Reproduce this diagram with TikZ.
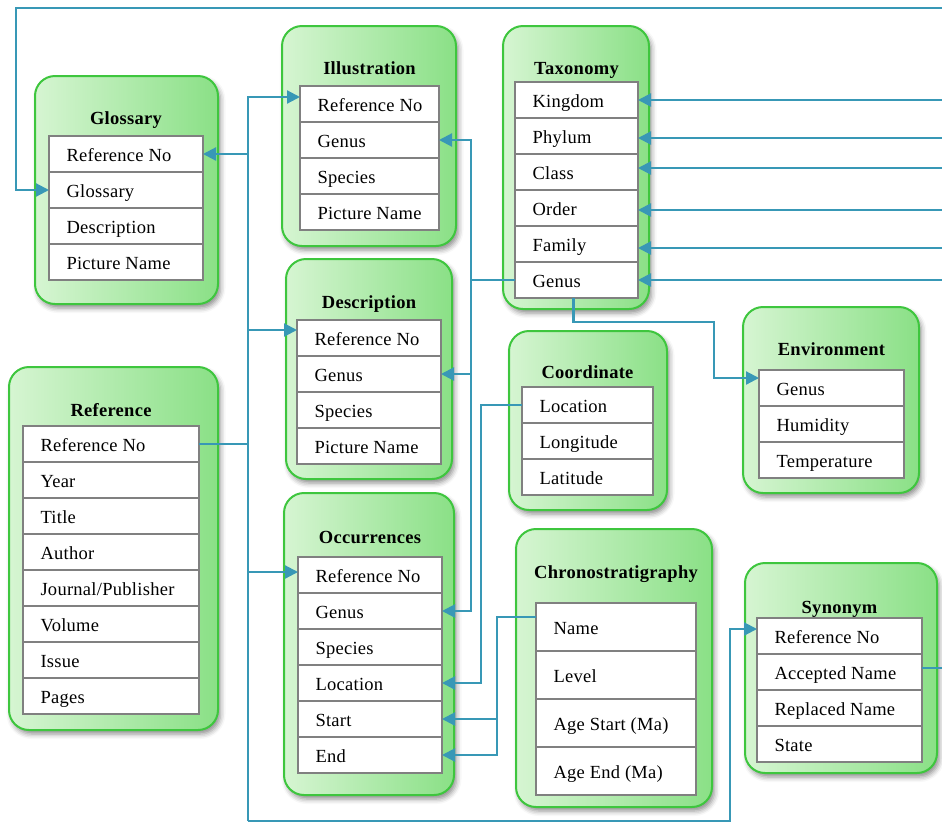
\documentclass[tikz,border=0pt]{standalone}
\usepackage{fontspec}
\setmainfont{Liberation Serif}[LetterSpace=1.5]
\usetikzlibrary{arrows.meta,shadows.blur}

\definecolor{boxedge}{RGB}{62,198,62}
\definecolor{boxlight}{RGB}{214,245,210}
\definecolor{boxdark}{RGB}{138,224,134}
\definecolor{rowedge}{RGB}{128,128,128}
\definecolor{wirecol}{RGB}{56,152,182}

\tikzset{
  entbox/.style={draw=boxedge, line width=2pt, rounded corners=20pt,
    left color=boxlight, right color=boxdark, anchor=north west,
    inner sep=0pt, outer sep=0pt,
    blur shadow={shadow xshift=2.5pt, shadow yshift=-4pt,
      shadow blur radius=5pt, shadow opacity=45}},
  fieldrow/.style={draw=rowedge, line width=1.5pt, fill=white,
    anchor=north west, inner xsep=17.5pt, inner ysep=0pt, outer sep=0pt,
    text height=15pt, text depth=0pt,
    font=\fontsize{18.5}{20}\selectfont},
  titletext/.style={anchor=base, inner sep=0pt,
    font=\fontsize{18.5}{20}\selectfont\bfseries},
  wire/.style={draw=wirecol, line width=2.2pt},
  wireto/.style={wire, -{Triangle[length=13pt,width=13pt]}},
}

% #1 prefix, #2 left x, #3 top y, #4 width, #5 row height, #6 field list
\newcommand{\fieldstack}[6]{%
  \pgfmathsetmacro{\fsw}{#4-35}%
  \foreach \ftext [count=\fidx] in {#6} {
    \node[fieldrow, minimum width=#4pt, minimum height=#5pt]
      (#1-\fidx) at (#2,{#3+(\fidx-1)*#5}) {\makebox[\fsw pt][l]{\ftext}};
  }%
}

\begin{document}
\begin{tikzpicture}[x=1pt, y=-1pt]
\useasboundingbox (0,0) rectangle (942,823);

% ---------- entity boxes ----------
\node[entbox, minimum width=183pt, minimum height=228pt] (gloss) at (35,76) {};
\node[titletext] (gloss-t) at (126,124) {Glossary};
\fieldstack{gl}{49}{136}{154}{36}{Reference No,Glossary,Description,Picture Name}

\node[entbox, minimum width=174pt, minimum height=220pt] (illu) at (282,26) {};
\node[titletext] (illu-t) at (369.5,74) {Illustration};
\fieldstack{ill}{300}{86}{139}{36}{Reference No,Genus,Species,Picture Name}

\node[entbox, minimum width=146pt, minimum height=283pt] (taxo) at (503,26) {};
\node[titletext] (taxo-t) at (576.5,74) {Taxonomy};
\fieldstack{tax}{515}{82}{123}{36}{Kingdom,Phylum,Class,Order,Family,Genus}

\node[entbox, minimum width=166pt, minimum height=220pt] (desc) at (286,259) {};
\node[titletext] (desc-t) at (369,308) {Description};
\fieldstack{dsc}{297}{320}{144}{36}{Reference No,Genus,Species,Picture Name}

\node[entbox, minimum width=158pt, minimum height=179pt] (coor) at (509,331) {};
\node[titletext] (coor-t) at (587.5,378) {Coordinate};
\fieldstack{coo}{522}{387}{131}{36}{Location,Longitude,Latitude}

\node[entbox, minimum width=176pt, minimum height=186pt] (envi) at (743,307) {};
\node[titletext] (envi-t) at (831.5,355) {Environment};
\fieldstack{env}{759}{370}{145}{36}{Genus,Humidity,Temperature}

\node[entbox, minimum width=209pt, minimum height=363pt] (refe) at (9,367) {};
\node[titletext] (refe-t) at (111,416) {Reference};
\fieldstack{ref}{23}{426}{176}{36}{Reference No,Year,Title,Author,Journal/Publisher,Volume,Issue,Pages}

\node[entbox, minimum width=170pt, minimum height=302pt] (occu) at (284,493) {};
\node[titletext] (occu-t) at (370,543) {Occurrences};
\fieldstack{occ}{298}{557}{144}{36}{Reference No,Genus,Species,Location,Start,End}

\node[entbox, minimum width=196pt, minimum height=278pt] (chro) at (516,529) {};
\node[titletext] (chro-t) at (616,578) {Chronostratigraphy};
\fieldstack{chr}{536}{603}{160}{48}{Name,Level,Age Start (Ma),Age End (Ma)}

\node[entbox, minimum width=192pt, minimum height=210pt] (syno) at (745,563) {};
\node[titletext] (syno-t) at (839.5,613) {Synonym};
\fieldstack{syn}{757}{618}{165}{36}{Reference No,Accepted Name,Replaced Name,State}

% ---------- connectors ----------
% loop entering from the right along the top edge
\coordinate (topin) at (942,8);
\draw[wireto] (topin) -- (16,8) |- (gl-2.west);

% Reference No trunk
\coordinate (trunkTop) at (248,97);
\coordinate (trunkBot) at (248,821);
\draw[wire] (ref-1.east) -- (ref-1.east -| trunkTop);
\draw[wireto] (trunkBot) |- ([yshift=7pt]ill-1.west);
\draw[wireto] (gl-1.east -| trunkTop) -- (gl-1.east);
\draw[wireto] ([yshift=8pt]dsc-1.west -| trunkTop) -- ([yshift=8pt]dsc-1.west);
\draw[wireto] ([yshift=3pt]occ-1.west -| trunkTop) -- ([yshift=3pt]occ-1.west);
\draw[wireto] (trunkBot) -- (730,821) |- ([yshift=7pt]syn-1.west);

% Taxonomy Genus
\coordinate (gx) at (471,0);
\draw[wireto] (tax-6.west) -| (gx |- ill-2.east) -- (ill-2.east);
\draw[wireto] (gx |- tax-6.west) |- (dsc-2.east);
\draw[wireto] (gx |- dsc-2.east) |- (occ-2.east);
\draw[wireto] ([xshift=-3pt]tax-6.south) |- (714,322) |- ([yshift=10pt]env-1.west);

% Coordinate Location
\draw[wireto] (coo-1.west) -| ([xshift=39pt]occ-4.east) -- (occ-4.east);

% Chronostratigraphy Name
\draw[wireto] ([yshift=10pt]chr-1.west) -| ([xshift=55pt]occ-6.east) -- (occ-6.east);
\draw[wireto] ([xshift=55pt]occ-5.east) -- (occ-5.east);

% Taxonomy fields fed from the right edge
\foreach \k/\yy in {1/100,2/138,3/168,4/210,5/248,6/280} {
  \coordinate (tin-\k) at (942,\yy);
  \draw[wireto] (tin-\k) -- (tin-\k -| tax-\k.east);
}

% Synonym Accepted Name leaving to the right
\coordinate (synout) at (942,668);
\draw[wire] (syn-2.east |- synout) -- (synout);
\end{tikzpicture}
\end{document}
